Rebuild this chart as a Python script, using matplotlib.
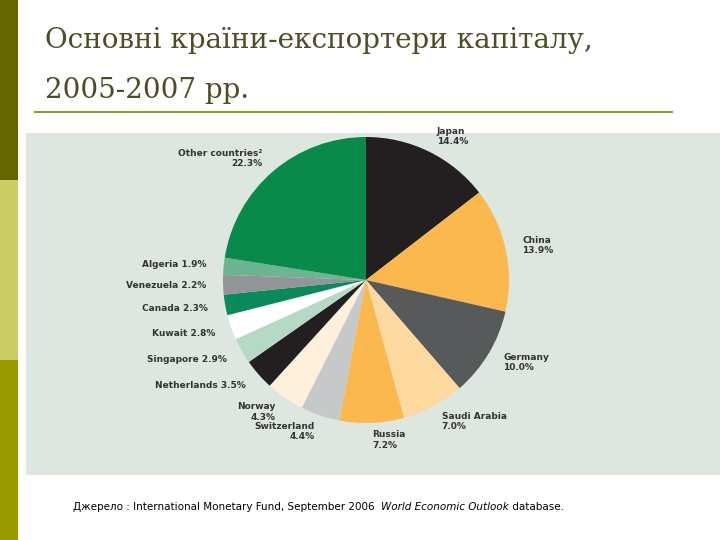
import matplotlib
matplotlib.use("Agg")
import matplotlib.pyplot as plt
from matplotlib.patches import Rectangle

countries = ["Japan", "China", "Germany", "Saudi Arabia", "Russia", "Switzerland", "Norway",
             "Netherlands", "Singapore", "Kuwait", "Canada", "Venezuela", "Algeria", "Other countries²"]
shares = [14.4, 13.9, 10.0, 7.0, 7.2, 4.4, 4.3, 3.5, 2.9, 2.8, 2.3, 2.2, 1.9, 22.3]
colors = ["#231f20", "#fbb84f", "#58595b", "#fdd9a0", "#fbb84f", "#c7c8ca", "#fff0dc",
          "#231f20", "#b5d9c5", "#ffffff", "#0a8a5a", "#939598", "#6db592", "#0a8a4a"]
inline = {"Algeria", "Venezuela", "Canada", "Kuwait", "Singapore", "Netherlands"}
labels = [f"{c} {v}%" if c in inline else f"{c}\n{v}%" for c, v in zip(countries, shares)]

fig = plt.figure(figsize=(7.2, 5.4), dpi=100)
W, H = 720, 540
def R(x, y, w, h, c):
    fig.add_artist(Rectangle((x / W, 1 - (y + h) / H), w / W, h / H, color=c,
                             transform=fig.transFigure, lw=0, zorder=-5))
R(0, 0, 18, 180, "#666600")
R(0, 180, 18, 180, "#cccc66")
R(0, 360, 18, 180, "#999900")
R(26, 133, 694, 342, "#dde6df")
fig.add_artist(plt.Line2D([35 / W, 672 / W], [1 - 112 / H] * 2, color="#999933", lw=1.5))
fig.text(45 / W, 1 - 40 / H, "Основні країни-експортери капіталу,", family="DejaVu Serif",
         fontsize=20, color="#4d4d26", va="center")
fig.text(45 / W, 1 - 90 / H, "2005-2007 рр.", family="DejaVu Serif", fontsize=20, color="#4d4d26", va="center")

r = 143
ax = fig.add_axes([(366 - r) / W, 1 - (280 + r) / H, 2 * r / W, 2 * r / H])
ax.set_zorder(2)
ax.pie(shares, colors=colors, labels=labels, startangle=90, counterclock=False, labeldistance=1.12,
       wedgeprops=dict(edgecolor="none"), textprops=dict(fontsize=6.5, color="#333333", fontweight="bold"))
ax.set_xlim(-1, 1); ax.set_ylim(-1, 1)
ax.set_aspect("equal")
ax.set_clip_on(False)
for t in ax.texts:
    t.set_clip_on(False)

parts = [("Джерело : International Monetary Fund, September 2006 ", "normal"),
         ("World Economic Outlook", "italic"), (" database.", "normal")]
fig.canvas.draw()
rend = fig.canvas.get_renderer()
x = 73
for s, st in parts:
    t = fig.text(x / W, 1 - 507 / H, s, fontsize=7.5, style=st, va="center")
    x = t.get_window_extent(rend).x1 + (3 if s.endswith(" ") else 0)
fig.savefig("out.png", dpi=100)
